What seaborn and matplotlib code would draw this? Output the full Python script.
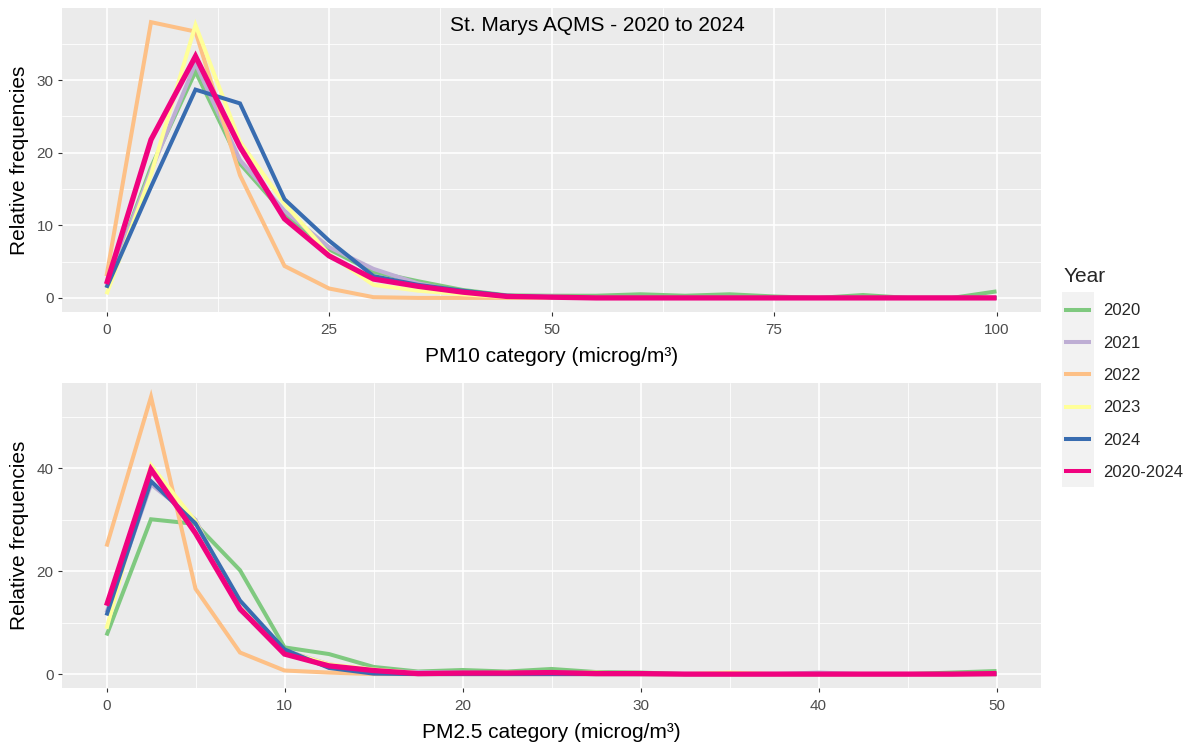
import numpy as np
import pandas as pd
import matplotlib
matplotlib.use("Agg")
import matplotlib.pyplot as plt
import seaborn as sns
from matplotlib.patches import Rectangle
from matplotlib.lines import Line2D
from matplotlib.ticker import MultipleLocator

years = ["2020", "2021", "2022", "2023", "2024", "2020-2024"]
colors = ["#7FC97F", "#BEAED4", "#FDC086", "#FFFF99", "#386CB0", "#F0027F"]

title = "St. Marys AQMS - 2020 to 2024"
ylabel = "Relative frequencies"
xlabel_pm10 = "PM10 category (microg/m³)"
xlabel_pm25 = "PM2.5 category (microg/m³)"

# PM10 categories 0..100 step 5
pm10_cat = [0, 5, 10, 15, 20, 25, 30, 35, 40, 45, 50, 55, 60, 65, 70, 75, 80, 85, 90, 95, 100]
pm10_2020 = [1.4, 18.0, 31.2, 18.5, 11.6, 6.7, 3.6, 2.3, 1.1, 0.35, 0.3, 0.3, 0.5, 0.3, 0.5, 0.2, 0.0, 0.4, 0.0, 0.0, 0.9]
pm10_2021 = [1.5, 17.5, 32.3, 19.0, 12.0, 7.0, 4.0, 2.0, 0.8, 0.3, 0.2, 0.0, 0.0, 0.0, 0.0, 0.0, 0.0, 0.0, 0.0, 0.0, 0.0]
pm10_2022 = [3.0, 38.0, 36.7, 16.9, 4.4, 1.3, 0.1, 0.0, 0.0, 0.0, 0.0, 0.0, 0.0, 0.0, 0.0, 0.0, 0.0, 0.0, 0.0, 0.0, 0.0]
pm10_2023 = [0.5, 17.0, 37.6, 21.5, 13.0, 6.0, 1.8, 1.0, 0.5, 0.1, 0.0, 0.0, 0.0, 0.0, 0.0, 0.0, 0.0, 0.0, 0.0, 0.0, 0.0]
pm10_2024 = [1.4, 15.3, 28.7, 26.8, 13.6, 7.9, 3.0, 1.8, 1.0, 0.3, 0.1, 0.0, 0.0, 0.0, 0.0, 0.0, 0.0, 0.0, 0.0, 0.0, 0.0]
pm10_all = [1.9, 21.8, 33.3, 20.8, 10.9, 5.8, 2.6, 1.6, 0.8, 0.2, 0.1, 0.0, 0.0, 0.0, 0.0, 0.0, 0.0, 0.0, 0.0, 0.0, 0.0]

# PM2.5 categories 0..50 step 2.5
pm25_cat = [0, 2.5, 5, 7.5, 10, 12.5, 15, 17.5, 20, 22.5, 25, 27.5, 30, 32.5, 35, 37.5, 40, 42.5, 45, 47.5, 50]
pm25_2020 = [7.5, 30.1, 29.2, 20.2, 5.2, 3.9, 1.4, 0.5, 0.8, 0.5, 1.0, 0.4, 0.3, 0.0, 0.0, 0.0, 0.0, 0.0, 0.0, 0.3, 0.6]
pm25_2021 = [12.0, 36.9, 30.0, 12.4, 4.6, 1.9, 0.6, 0.4, 0.3, 0.2, 0.3, 0.1, 0.0, 0.0, 0.0, 0.0, 0.3, 0.0, 0.0, 0.0, 0.0]
pm25_2022 = [24.8, 53.9, 16.6, 4.2, 0.7, 0.3, 0.0, 0.0, 0.0, 0.0, 0.0, 0.0, 0.0, 0.0, 0.0, 0.0, 0.0, 0.0, 0.0, 0.0, 0.0]
pm25_2023 = [8.8, 40.6, 29.7, 13.0, 4.5, 1.9, 0.9, 0.2, 0.1, 0.3, 0.1, 0.3, 0.0, 0.0, 0.3, 0.0, 0.0, 0.0, 0.0, 0.0, 0.0]
pm25_2024 = [11.4, 37.5, 29.3, 14.3, 4.8, 1.2, 0.1, 0.0, 0.0, 0.0, 0.0, 0.0, 0.0, 0.0, 0.0, 0.0, 0.0, 0.0, 0.0, 0.0, 0.0]
pm25_all = [13.3, 39.8, 27.4, 12.7, 3.9, 1.6, 0.7, 0.1, 0.2, 0.2, 0.3, 0.1, 0.1, 0.0, 0.0, 0.0, 0.0, 0.0, 0.0, 0.0, 0.1]

pm10_series = [pm10_2020, pm10_2021, pm10_2022, pm10_2023, pm10_2024, pm10_all]
pm25_series = [pm25_2020, pm25_2021, pm25_2022, pm25_2023, pm25_2024, pm25_all]


def long_df(cats, series):
    rows = []
    for yr, vals in zip(years, series):
        for c, v in zip(cats, vals):
            rows.append({"cat": c, "freq": v, "Year": yr})
    return pd.DataFrame(rows)


df10 = long_df(pm10_cat, pm10_series)
df25 = long_df(pm25_cat, pm25_series)

sns.set_theme(style="darkgrid")
plt.rcParams["font.family"] = ["Liberation Sans", "DejaVu Sans"]

W, H = 1191, 747
fig = plt.figure(figsize=(W / 100, H / 100), dpi=100)
fig.patch.set_facecolor("white")


def fx(px):
    return px / W


def fy(py):
    return 1 - py / H


ax1 = fig.add_axes([fx(62), fy(311.7), fx(1041 - 62), (311.7 - 8) / H])
ax2 = fig.add_axes([fx(62), fy(688), fx(1041 - 62), (688 - 383) / H])

LW = 2.9
for ax, df in ((ax1, df10), (ax2, df25)):
    sns.lineplot(data=df, x="cat", y="freq", hue="Year", hue_order=years,
                 palette=colors, ax=ax, legend=False, linewidth=LW,
                 estimator=None, sort=False)
    ax.lines[-1].set_linewidth(3.8)
    for ln in ax.lines:
        ln.set_solid_capstyle("butt")
        ln.set_solid_joinstyle("miter")

# axes styling
for ax in (ax1, ax2):
    ax.set_facecolor("#EBEBEB")
    for s in ax.spines.values():
        s.set_visible(False)
    ax.grid(which="major", color="white", linewidth=1.2)
    ax.grid(which="minor", color="white", linewidth=0.6)
    ax.set_axisbelow(True)
    ax.tick_params(which="major", length=2.6, width=0.8, color="#333333",
                   labelsize=11, labelcolor="#4D4D4D", pad=3.5, direction="out",
                   bottom=True, left=True)
    ax.tick_params(axis="x", which="major", pad=5.5)
    ax.tick_params(which="minor", length=0)
    ax.set_ylabel(ylabel, fontsize=15, color="black")
    ax.yaxis.set_label_coords((29 - 62) / (1041 - 62), 0.5)

ax1.set_xlim(-5, 105)
ax1.set_ylim(-1.9, 39.95)
ax1.set_xticks([0, 25, 50, 75, 100])
ax1.xaxis.set_minor_locator(MultipleLocator(12.5))
ax1.set_yticks([0, 10, 20, 30])
ax1.yaxis.set_minor_locator(MultipleLocator(5))
ax1.set_xlabel(xlabel_pm10, fontsize=15, color="black", labelpad=7)
ax1.text(55.2, 37.6, title, ha="center", va="center", fontsize=15, color="black")

ax2.set_xlim(-2.5, 52.5)
ax2.set_ylim(-2.7, 56.6)
ax2.set_xticks([0, 10, 20, 30, 40, 50])
ax2.xaxis.set_minor_locator(MultipleLocator(5))
ax2.set_yticks([0, 20, 40])
ax2.yaxis.set_minor_locator(MultipleLocator(10))
ax2.set_xlabel(xlabel_pm25, fontsize=15, color="black", labelpad=7)

# legend key background
fig.patches.append(Rectangle((fx(1062), fy(487)), fx(1094 - 1062), (487 - 292) / H,
                             transform=fig.transFigure, facecolor="#F2F2F2",
                             edgecolor="none", zorder=0))

handles = [Line2D([0], [0], color=c, lw=LW, solid_capstyle="butt") for c in colors]
leg = fig.legend(handles, years, title="Year", loc="upper left",
                 bbox_to_anchor=(fx(1064), fy(267)), frameon=False,
                 fontsize=12, title_fontsize=15, handlelength=1.6,
                 handletextpad=0.72, labelspacing=1.04, borderpad=0,
                 borderaxespad=0)
leg._legend_box.align = "left"

fig.savefig("out.png", dpi=100, facecolor="white")
